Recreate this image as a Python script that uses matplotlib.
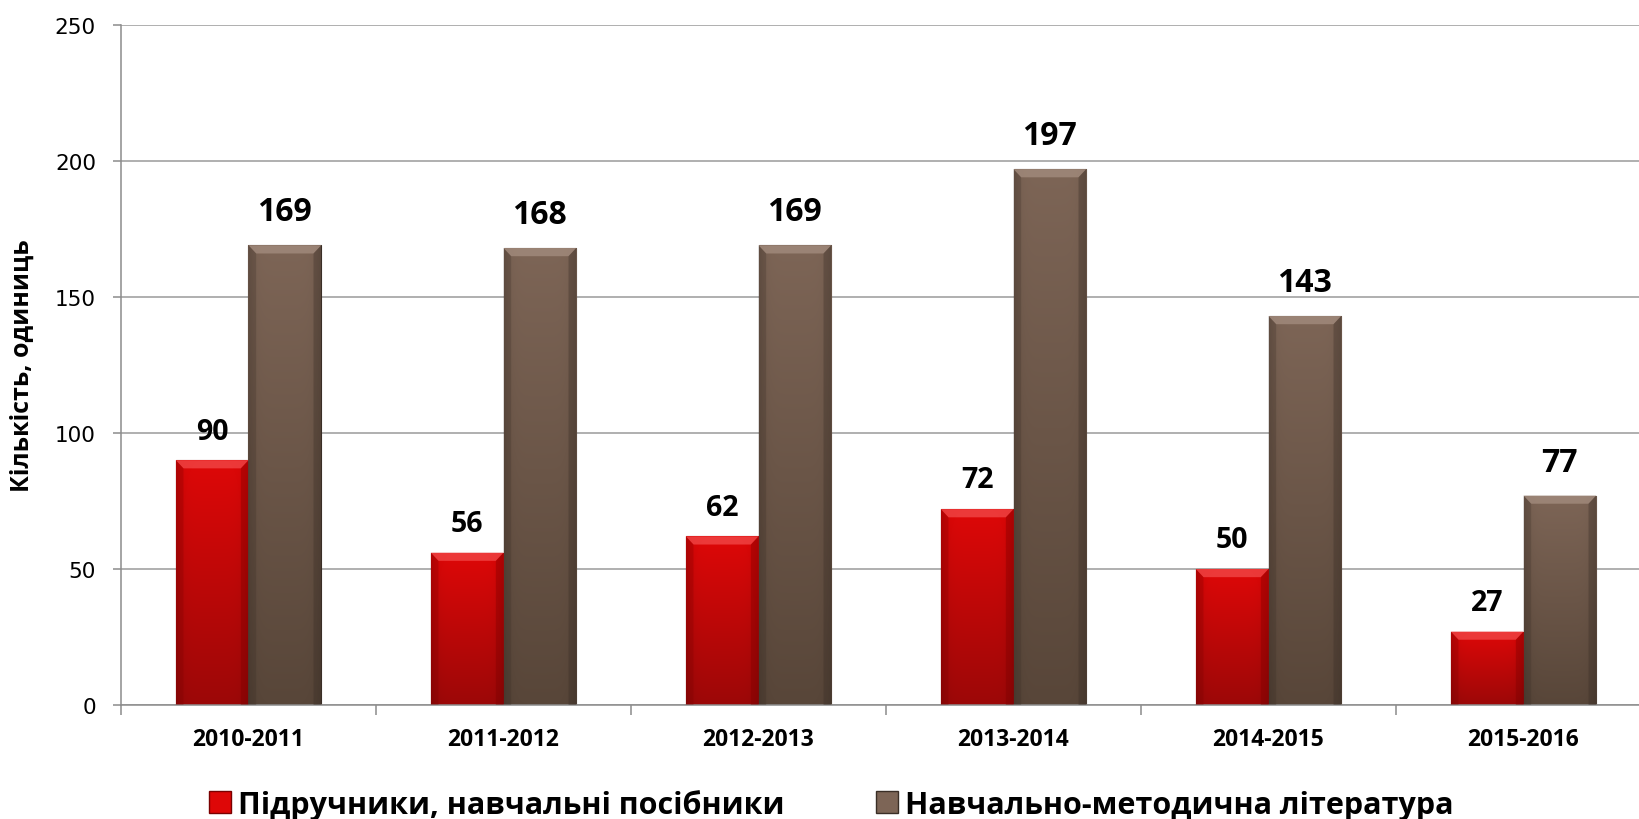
import numpy as np
import matplotlib
matplotlib.use("Agg")
import matplotlib.pyplot as plt
from matplotlib.patches import Polygon, Patch

years = ["2010-2011", "2011-2012", "2012-2013", "2013-2014", "2014-2015", "2015-2016"]
textbooks = [90, 56, 62, 72, 50, 27]
methodical = [169, 168, 169, 197, 143, 77]
series_names = ["Підручники, навчальні посібники", "Навчально-методична література"]

BOLD = "Open Sans"
RED_TOP, RED_BOT, RED_EDGE, RED_BEV = "#de0707", "#9c0808", "#7a0000", "#f24a4a"
BRN_TOP, BRN_BOT, BRN_EDGE, BRN_BEV = "#7d6556", "#584639", "#3a2e26", "#a58e80"


def hex_rgb(c):
    return np.array(matplotlib.colors.to_rgb(c))


def shade_bar(ax, bar, top, bot, edge, bevel):
    # vertical gradient with darker sides, clipped to the bar rectangle
    x0, y0 = bar.get_x(), bar.get_y()
    w, h = bar.get_width(), bar.get_height()
    t = np.linspace(0, 1, 200)[:, None, None]
    col = hex_rgb(bot) * (1 - t) + hex_rgb(top) * t
    s = np.linspace(-1, 1, 60)[None, :, None]
    col = col * (1 - 0.12 * np.abs(s) ** 6)
    img = np.clip(col, 0, 1)
    im = ax.imshow(img, extent=[x0, x0 + w, y0, y0 + h], origin="lower",
                   aspect="auto", zorder=2.5, interpolation="bilinear")
    im.set_clip_path(bar)
    # bevelled top edge
    dx, dy = 0.03, 3.0
    yt = y0 + h
    ax.add_patch(Polygon([(x0, yt), (x0 + w, yt), (x0 + w - dx, yt - dy), (x0 + dx, yt - dy)],
                         closed=True, fc=bevel, ec="none", alpha=0.75, zorder=2.6))
    ax.add_patch(Polygon([(x0, yt), (x0 + dx, yt - dy), (x0 + dx, y0), (x0, y0)],
                         closed=True, fc=edge, ec="none", alpha=0.25, zorder=2.6))
    ax.add_patch(Polygon([(x0 + w, yt), (x0 + w - dx, yt - dy), (x0 + w - dx, y0), (x0 + w, y0)],
                         closed=True, fc=edge, ec="none", alpha=0.35, zorder=2.6))


fig = plt.figure(figsize=(16.4, 8.2), dpi=100)
ax = fig.add_axes([121 / 1640, 114 / 820, 1530 / 1640, 680 / 820])

centers = np.arange(len(years)) + 0.5
bw = 0.285
b1 = ax.bar(centers - bw / 2, textbooks, bw, color=RED_TOP, edgecolor=RED_EDGE, linewidth=0.8, zorder=2)
b2 = ax.bar(centers + bw / 2, methodical, bw, color=BRN_TOP, edgecolor=BRN_EDGE, linewidth=0.8, zorder=2)
for bar in b1:
    shade_bar(ax, bar, RED_TOP, RED_BOT, RED_EDGE, RED_BEV)
for bar in b2:
    shade_bar(ax, bar, BRN_TOP, BRN_BOT, BRN_EDGE, BRN_BEV)

for bar, v in zip(b1, textbooks):
    ax.annotate(str(v), (bar.get_x() + bar.get_width() / 2, v), xytext=(0, 21),
                textcoords="offset points", ha="center", va="center",
                fontsize=20.5, fontweight="bold", family=BOLD, zorder=5)
for bar, v in zip(b2, methodical):
    ax.annotate(str(v), (bar.get_x() + bar.get_width() / 2, v), xytext=(0, 24),
                textcoords="offset points", ha="center", va="center",
                fontsize=23, fontweight="bold", family=BOLD, zorder=5)

ax.set_xlim(0, len(years))
ax.set_ylim(0, 250)
ax.set_yticks(range(0, 251, 50))
ax.yaxis.grid(True, color="#9a9a9a", linewidth=1.1)
ax.set_axisbelow(True)
for side in ("top", "right"):
    ax.spines[side].set_visible(False)
for side in ("left", "bottom"):
    ax.spines[side].set_color("#8c8c8c")
    ax.spines[side].set_linewidth(1.1)

ax.set_xticks(np.arange(len(years) + 1))
ax.set_xticklabels([])
ax.set_xticks(centers, minor=True)
ax.set_xticklabels(years, minor=True, fontsize=16.5, fontweight="bold", family=BOLD)
ax.tick_params(axis="x", which="major", length=7, color="#8c8c8c", width=1.1)
ax.tick_params(axis="x", which="minor", length=0, pad=16)
ax.tick_params(axis="y", length=6, color="#8c8c8c", width=1.1, labelsize=15.5, pad=12)
for lab in ax.get_yticklabels():
    lab.set_family("DejaVu Sans")

ax.set_ylabel("Кількість, одиниць", fontsize=18, fontweight="bold", family=BOLD)
ax.yaxis.set_label_coords(-86 / 1530, 0.5)

handles = [Patch(facecolor=RED_TOP, edgecolor=RED_EDGE, label=series_names[0]),
           Patch(facecolor=BRN_TOP, edgecolor=BRN_EDGE, label=series_names[1])]
fig.legend(handles=handles, loc="center", bbox_to_anchor=(0.507, 0.018), ncol=2,
           frameon=False, prop={"family": BOLD, "weight": "bold", "size": 22},
           handlelength=0.7, handleheight=0.7, handletextpad=0.25, columnspacing=3.0,
           borderaxespad=0)

fig.savefig("out.png", dpi=100)
